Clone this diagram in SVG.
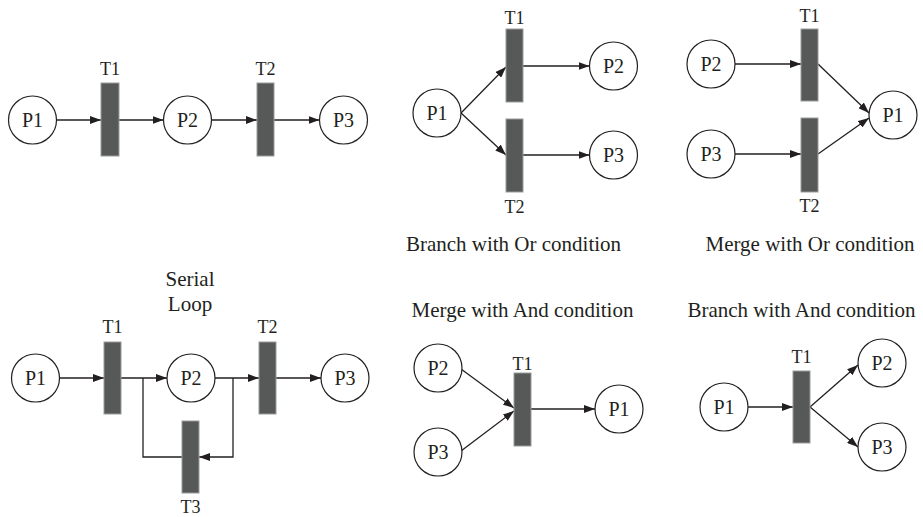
<svg xmlns="http://www.w3.org/2000/svg" width="923" height="517" viewBox="0 0 923 517">
  <style>
    .place { fill: #ffffff; stroke: #231f20; stroke-width: 1.2; }
    .trans { fill: #565958; stroke: #9a9c9b; stroke-width: 1; }
    .edge { fill: none; stroke: #231f20; stroke-width: 1.3; }
    .arrow { marker-end: url(#head); }
    .plabel { font-family: "Liberation Serif", "Times New Roman", serif; font-size: 20px; fill: #231f20; text-anchor: middle; }
    .tlabel { font-family: "Liberation Serif", "Times New Roman", serif; font-size: 18px; fill: #231f20; text-anchor: middle; }
    .caption { font-family: "Liberation Serif", "Times New Roman", serif; font-size: 21px; fill: #231f20; text-anchor: middle; }
  </style>
  <defs>
    <marker id="head" markerUnits="userSpaceOnUse" markerWidth="11" markerHeight="8" refX="11" refY="4" orient="auto">
      <path d="M0,0 L11,4 L0,8 z" fill="#231f20"/>
    </marker>
  </defs>
  <rect width="923" height="517" fill="#ffffff"/>

  <!-- Sequence: P1 -> T1 -> P2 -> T2 -> P3 -->
  <g id="sequence">
    <g id="seq-connectors">
      <line class="edge arrow" x1="56.5" y1="120" x2="101" y2="120"/>
      <line class="edge arrow" x1="119" y1="120" x2="163.5" y2="120"/>
      <line class="edge arrow" x1="211.5" y1="120" x2="257" y2="120"/>
      <line class="edge arrow" x1="274" y1="120" x2="319.5" y2="120"/>
    </g>
    <g id="seq-p1"><circle class="place" cx="32.5" cy="120" r="24"/><text class="plabel" x="32.5" y="127">P1</text></g>
    <g id="seq-t1"><rect class="trans" x="101" y="83" width="18" height="73"/><text class="tlabel" x="110" y="75">T1</text></g>
    <g id="seq-p2"><circle class="place" cx="187.5" cy="120" r="24"/><text class="plabel" x="187.5" y="127">P2</text></g>
    <g id="seq-t2"><rect class="trans" x="257" y="83" width="17" height="73"/><text class="tlabel" x="265.5" y="75">T2</text></g>
    <g id="seq-p3"><circle class="place" cx="343.5" cy="120" r="24"/><text class="plabel" x="343.5" y="127">P3</text></g>
  </g>

  <!-- Serial loop -->
  <g id="loop">
    <text class="caption" x="190" y="286">Serial</text>
    <text class="caption" x="190" y="311">Loop</text>
    <g id="loop-connectors">
      <line class="edge arrow" x1="59.5" y1="378" x2="104" y2="378"/>
      <line class="edge arrow" x1="121" y1="378" x2="167" y2="378"/>
      <line class="edge arrow" x1="215" y1="378" x2="259" y2="378"/>
      <line class="edge arrow" x1="276" y1="378" x2="321" y2="378"/>
      <polyline class="edge" points="143,378 143,457 182,457"/>
      <polyline class="edge arrow" points="233,378 233,457 199,457"/>
    </g>
    <g id="loop-p1"><circle class="place" cx="35.5" cy="378" r="24"/><text class="plabel" x="35.5" y="385">P1</text></g>
    <g id="loop-t1"><rect class="trans" x="104" y="342" width="17" height="72"/><text class="tlabel" x="112.5" y="333">T1</text></g>
    <g id="loop-p2"><circle class="place" cx="191" cy="378" r="24"/><text class="plabel" x="191" y="385">P2</text></g>
    <g id="loop-t2"><rect class="trans" x="259" y="342" width="17" height="72"/><text class="tlabel" x="267.5" y="333">T2</text></g>
    <g id="loop-p3"><circle class="place" cx="345" cy="378" r="24"/><text class="plabel" x="345" y="385">P3</text></g>
    <g id="loop-t3"><rect class="trans" x="182" y="421" width="17" height="72"/><text class="tlabel" x="190.5" y="513">T3</text></g>
  </g>

  <!-- Branch with Or condition -->
  <g id="branch-or">
    <g id="bor-connectors">
      <line class="edge arrow" x1="461" y1="113" x2="506" y2="67"/>
      <line class="edge arrow" x1="461" y1="113" x2="506" y2="155"/>
      <line class="edge arrow" x1="523" y1="66" x2="589.5" y2="66"/>
      <line class="edge arrow" x1="523" y1="155" x2="589.5" y2="155"/>
    </g>
    <g id="bor-p1"><circle class="place" cx="437" cy="113" r="24"/><text class="plabel" x="437" y="120">P1</text></g>
    <g id="bor-t1"><rect class="trans" x="506" y="29" width="17" height="73"/><text class="tlabel" x="514.5" y="24">T1</text></g>
    <g id="bor-t2"><rect class="trans" x="506" y="119" width="17" height="73"/><text class="tlabel" x="514.5" y="213">T2</text></g>
    <g id="bor-p2"><circle class="place" cx="613.5" cy="66" r="24"/><text class="plabel" x="613.5" y="73">P2</text></g>
    <g id="bor-p3"><circle class="place" cx="613.5" cy="155" r="24"/><text class="plabel" x="613.5" y="162">P3</text></g>
    <text class="caption" x="513.5" y="251">Branch with Or condition</text>
  </g>

  <!-- Merge with Or condition -->
  <g id="merge-or">
    <g id="mor-connectors">
      <line class="edge arrow" x1="735" y1="64" x2="801" y2="64"/>
      <line class="edge arrow" x1="735" y1="154" x2="801" y2="154"/>
      <line class="edge arrow" x1="818" y1="64" x2="869" y2="113"/>
      <line class="edge arrow" x1="818" y1="154" x2="869" y2="118"/>
    </g>
    <g id="mor-p2"><circle class="place" cx="711" cy="64" r="24"/><text class="plabel" x="711" y="71">P2</text></g>
    <g id="mor-p3"><circle class="place" cx="711" cy="154" r="24"/><text class="plabel" x="711" y="161">P3</text></g>
    <g id="mor-t1"><rect class="trans" x="801" y="29" width="17" height="72"/><text class="tlabel" x="809.5" y="22">T1</text></g>
    <g id="mor-t2"><rect class="trans" x="801" y="118" width="17" height="74"/><text class="tlabel" x="809.5" y="212">T2</text></g>
    <g id="mor-p1"><circle class="place" cx="893" cy="115" r="24"/><text class="plabel" x="893" y="122">P1</text></g>
    <text class="caption" x="810" y="251">Merge with Or condition</text>
  </g>

  <!-- Merge with And condition -->
  <g id="merge-and">
    <text class="caption" x="522.5" y="317">Merge with And condition</text>
    <g id="mand-connectors">
      <line class="edge arrow" x1="461" y1="369" x2="514" y2="408"/>
      <line class="edge arrow" x1="461" y1="451" x2="514" y2="411"/>
      <line class="edge arrow" x1="531" y1="409" x2="595" y2="409"/>
    </g>
    <g id="mand-p2"><circle class="place" cx="438" cy="368" r="24"/><text class="plabel" x="438" y="375">P2</text></g>
    <g id="mand-p3"><circle class="place" cx="438" cy="452" r="24"/><text class="plabel" x="438" y="459">P3</text></g>
    <g id="mand-t1"><rect class="trans" x="514" y="373" width="17" height="73"/><text class="tlabel" x="522.5" y="370">T1</text></g>
    <g id="mand-p1"><circle class="place" cx="619" cy="409" r="24"/><text class="plabel" x="619" y="416">P1</text></g>
  </g>

  <!-- Branch with And condition -->
  <g id="branch-and">
    <text class="caption" x="801.5" y="317">Branch with And condition</text>
    <g id="band-connectors">
      <line class="edge arrow" x1="748" y1="407" x2="793" y2="407"/>
      <line class="edge arrow" x1="810" y1="407" x2="858" y2="365"/>
      <line class="edge arrow" x1="810" y1="407" x2="858" y2="447"/>
    </g>
    <g id="band-p1"><circle class="place" cx="724" cy="407" r="24"/><text class="plabel" x="724" y="414">P1</text></g>
    <g id="band-t1"><rect class="trans" x="793" y="371" width="17" height="72"/><text class="tlabel" x="801.5" y="363">T1</text></g>
    <g id="band-p2"><circle class="place" cx="882" cy="363" r="24"/><text class="plabel" x="882" y="370">P2</text></g>
    <g id="band-p3"><circle class="place" cx="882" cy="447" r="24"/><text class="plabel" x="882" y="454">P3</text></g>
  </g>
</svg>
